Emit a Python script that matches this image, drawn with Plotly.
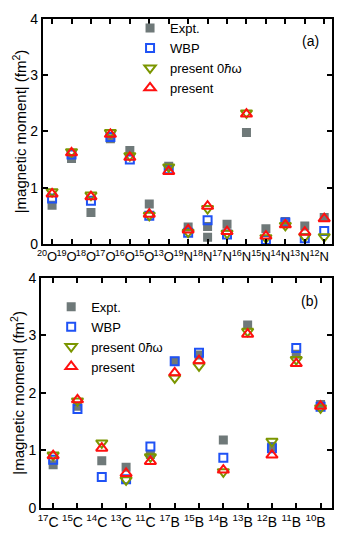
# external
import plotly.graph_objects as go


##########
# Inputs #
##########

# panel (a): O and N isotopes
labels_a = ["<sup>20</sup>O", "<sup>19</sup>O", "<sup>18</sup>O", "<sup>17</sup>O", "<sup>16</sup>O",
            "<sup>15</sup>O", "<sup>13</sup>O", "<sup>19</sup>N", "<sup>18</sup>N", "<sup>17</sup>N",
            "<sup>16</sup>N", "<sup>15</sup>N", "<sup>14</sup>N", "<sup>13</sup>N", "<sup>12</sup>N"]
expt_a = [0.69, 1.52, 0.56, 1.87, 1.66, 0.71, 1.38, 0.30, 0.31, 0.35, 1.98, 0.27, 0.40, 0.32, 0.47]
expt_a_second = {"<sup>18</sup>N": 0.12}   # second measurement
wbp_a = [0.81, 1.59, 0.77, 1.90, 1.50, 0.50, 1.33, 0.20, 0.42, 0.17, None, 0.07, 0.38, 0.10, 0.23]
zero_hw_a = [0.93, 1.64, 0.87, 1.98, 1.57, 0.51, 1.37, 0.21, 0.63, 0.19, 2.33, 0.11, 0.33, 0.13, 0.13]
present_a = [0.89, 1.62, 0.84, 1.95, 1.54, 0.53, 1.29, 0.25, 0.67, 0.22, 2.31, 0.14, 0.34, 0.21, 0.45]

# panel (b): C and B isotopes
labels_b = ["<sup>17</sup>C", "<sup>15</sup>C", "<sup>14</sup>C", "<sup>13</sup>C", "<sup>11</sup>C",
            "<sup>17</sup>B", "<sup>15</sup>B", "<sup>14</sup>B", "<sup>13</sup>B", "<sup>12</sup>B",
            "<sup>11</sup>B", "<sup>10</sup>B"]
expt_b = [0.75, 1.77, 0.82, 0.71, 0.93, 2.55, 2.66, 1.18, 3.18, 1.07, 2.67, 1.80]
wbp_b = [0.84, 1.72, 0.54, 0.50, 1.07, 2.55, 2.70, 0.875, None, 1.04, 2.78, 1.76]
zero_hw_b = [0.92, 1.86, 1.13, 0.49, 0.89, 2.26, 2.47, 0.63, 3.07, 1.16, 2.58, 1.74]
present_b = [0.91, 1.88, 1.04, 0.60, 0.81, 2.35, 2.56, 0.66, 3.02, 0.92, 2.51, 1.77]

y_ticks = [0, 1, 2, 3, 4]


############
# Plotting #
############

FONT = "Arial, Liberation Sans, sans-serif"
y_title = "|magnetic moment| (fm<sup>2</sup>)"

series_styles = [
    ("Expt.", dict(symbol="square", size=9, color="#6f7979")),
    ("WBP", dict(symbol="square-open", size=8, color="#1f52f5", line=dict(width=2))),
    ("present 0<i>ħ</i>ω", dict(symbol="triangle-down-open", size=10, color="#7b9600", line=dict(width=2))),
    ("present", dict(symbol="triangle-up-open", size=10, color="#ff1010", line=dict(width=2))),
]

figure = go.Figure()


def add_panel(labels, expt, expt_extra, wbp, zero_hw, present, xaxis, yaxis, legend):
    idx = list(range(len(labels)))
    expt_x = idx + [labels.index(k) for k in expt_extra]
    expt_y = expt + list(expt_extra.values())
    for (name, marker), (xs, ys) in zip(series_styles,
                                        [(expt_x, expt_y), (idx, wbp), (idx, zero_hw), (idx, present)]):
        figure.add_trace(go.Scatter(
            x=xs, y=ys, mode="markers", name=name, marker=marker,
            xaxis=xaxis, yaxis=yaxis, legend=legend,
        ))


add_panel(labels_a, expt_a, expt_a_second, wbp_a, zero_hw_a, present_a, "x", "y", "legend")
add_panel(labels_b, expt_b, {}, wbp_b, zero_hw_b, present_b, "x2", "y2", "legend2")

axis_common = dict(
    showline=True, linecolor="black", linewidth=1.6, mirror="ticks",
    ticks="inside", ticklen=5, tickwidth=1.6, tickcolor="black",
    showgrid=False, zeroline=False, automargin=False, ticklabeloverflow="allow",
)

# page body adds an 8px offset, so the figure is 8px smaller than the window
figure.update_layout(
    width=337, height=534,
    margin=dict(l=33, r=13, t=5, b=34),
    paper_bgcolor="white", plot_bgcolor="white",
    font=dict(family=FONT, color="black", size=14),
    xaxis=dict(axis_common, domain=[0.006, 1], anchor="y", range=[-0.48, 14.40],
               tickvals=list(range(len(labels_a))), ticktext=labels_a,
               tickfont=dict(size=13), tickangle=0, ticklabelshift=-5),
    yaxis=dict(axis_common, domain=[0.540, 1], anchor="x", range=[0, 4], tickvals=y_ticks,
               tickfont=dict(size=14),
               title=dict(text=y_title, font=dict(size=15), standoff=0)),
    xaxis2=dict(axis_common, domain=[0, 1], anchor="y2", range=[-0.5, 11.47],
                tickvals=list(range(len(labels_b))), ticktext=labels_b,
                tickfont=dict(size=14), tickangle=0, ticklabelshift=-5),
    yaxis2=dict(axis_common, domain=[0, 0.4707], anchor="x2", range=[0, 4], tickvals=y_ticks,
                tickfont=dict(size=14),
                title=dict(text=y_title, font=dict(size=15), standoff=0)),
    legend=dict(x=0.306, y=1.012, xanchor="left", yanchor="top",
                bgcolor="rgba(0,0,0,0)", font=dict(size=13)),
    legend2=dict(x=0.035, y=0.442, xanchor="left", yanchor="top",
                 bgcolor="rgba(0,0,0,0)", font=dict(size=13)),
    showlegend=True,
)

# panel tags
for tag, xref, yref in [("(a)", "x domain", "y domain"), ("(b)", "x2 domain", "y2 domain")]:
    figure.add_annotation(
        x=0.924, y=0.90, xref=xref, yref=yref, text=tag, showarrow=False,
        font=dict(size=14), xanchor="center", yanchor="middle",
    )


#############
# Save plot #
#############

figure.write_html("out.html")
